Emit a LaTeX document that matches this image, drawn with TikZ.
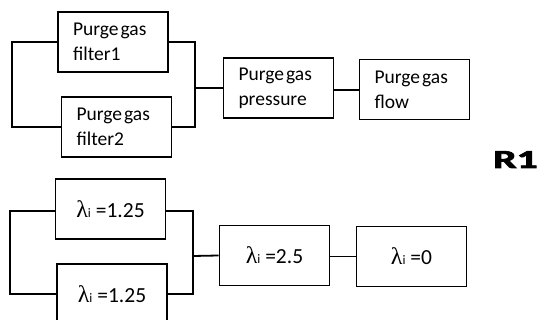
\documentclass[tikz,border=0pt]{standalone}
\usepackage{fontspec}
\usepackage{graphicx}
\setmainfont{Carlito}
\newfontfamily\lamfont{Liberation Serif}
\newfontfamily\rfont[FakeBold=2.5]{Carlito Bold}
\newcommand\lamtxt[1]{{\lamfont\fontsize{24}{24}\selectfont λ}{\fontsize{13}{13}\selectfont i} =#1}
\newcommand\pg{Purge\hspace{2pt}gas}
\tikzset{
  blk/.style={draw, line width=1.8pt, minimum width=110pt, minimum height=60pt, inner sep=0pt},
  txtblk/.style={blk, text width=80pt, align=left, font=\fontsize{19.5}{25}\selectfont},
  lamblk/.style={blk, align=center, font=\fontsize{21.5}{22}\selectfont},
  wire/.style={line width=1.8pt}
}
\begin{document}
\begin{tikzpicture}[x=1pt,y=-1pt]
\useasboundingbox (0,0) rectangle (539,320);
\clip (0,0) rectangle (539,320);
% top diagram
\node[txtblk] (f1) at (113,42) {\pg\\filter1};
\node[txtblk] (f2) at (116.5,127) {\pg\\filter2};
\node[txtblk] (pr) at (278.5,88) {\pg\\pressure};
\node[txtblk] (fl) at (414.5,89.5) {\pg\\flow};
\coordinate (tj1) at (195,42);
\coordinate (tj2) at (195,127);
\coordinate (tjm) at (195,88);
\draw[wire] (f1.west) -- ++(-45,0) |- (f2.west);
\draw[wire] (f1.east) -- (tj1) -- (tj2) -- (f2.east);
\draw[wire] (tjm) -- (pr.west);
\draw[wire] ([yshift=-2pt]pr.east) -- ([yshift=-2pt]pr.east -| fl.west);
% bottom diagram
\node[lamblk] (b1) at (110.5,209) {\lamtxt{1.25}};
\node[lamblk] (b2) at (112,294) {\lamtxt{1.25}};
\node[lamblk] (b3) at (274.5,255.5) {\lamtxt{2.5}};
\node[lamblk] (b4) at (411.5,256.5) {\lamtxt{0}};
\coordinate (bj1) at (193,211);
\coordinate (bj2) at (193,294);
\coordinate (bjm) at (193,256);
\draw[wire] ([yshift=-2pt]b1.west) -- ++(-45,0) |- (b2.west);
\draw[wire] ([yshift=-2pt]b1.east) -- (bj1) -- (bj2) -- (b2.east);
\draw[wire] (bjm) -- (b3.west);
\draw[wire] ([yshift=-1pt]b3.east) -- ([yshift=-1pt]b3.east -| b4.west);
% label
\node[anchor=base west, inner sep=0pt] (r1) at (493,168) {\scalebox{1.6}[1]{\rfont\fontsize{26}{26}\selectfont R1}};
\end{tikzpicture}
\end{document}
